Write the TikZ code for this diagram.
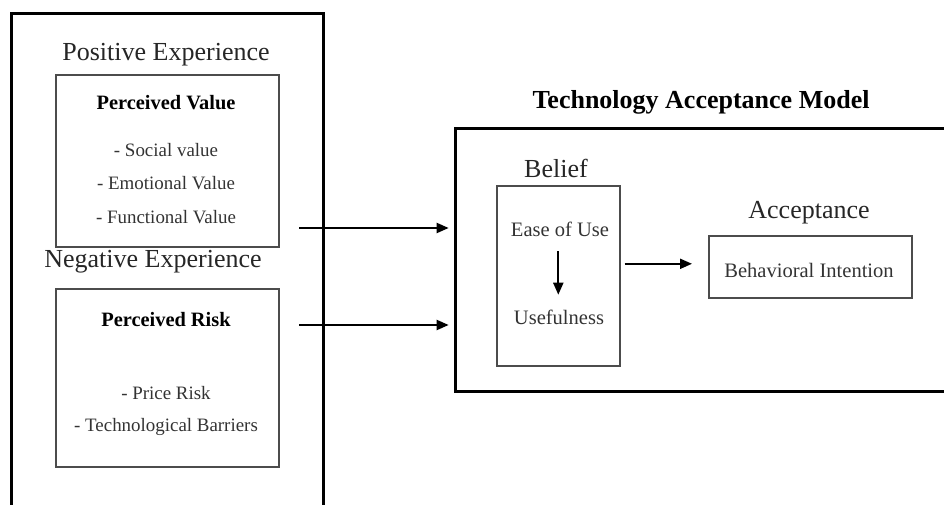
\documentclass[tikz,border=0pt]{standalone}
\usepackage{fontspec}
\setmainfont{Liberation Serif}
\usepackage{tikz}
\usetikzlibrary{positioning}
\usetikzlibrary{arrows.meta}

\tikzset{
	outerframe/.style={draw=black, line width=2.2pt, inner sep=0pt},
	innerbox/.style={draw=black!70, line width=1.2pt, inner sep=0pt},
	heading/.style={font=\fontsize{19.5}{22}\selectfont, text=black!85, inner sep=0pt},
	titlehead/.style={font=\fontsize{19.5}{22}\selectfont\bfseries, inner sep=0pt},
	boldhead/.style={font=\fontsize{15.3}{18}\selectfont\bfseries, inner sep=0pt},
	listitem/.style={font=\fontsize{14.2}{17}\selectfont, text=black!80, inner sep=0pt},
	boxtext/.style={font=\fontsize{15.4}{18}\selectfont, text=black!80, inner sep=0pt},
	flow/.style={-{Triangle[length=9pt,width=7.5pt]}, line width=1.5pt},
}

\begin{document}
\begin{tikzpicture}[x=0.75pt, y=-0.75pt]

	% ------------------------------------------------
	% Size of the picture
	\clip (0,0) rectangle (944,505);

	% ------------------------------------------------
	% Experience side
	\node[outerframe, anchor=north west, minimum width=234pt, minimum height=400pt] (ExpFrame) at (10,12) {};
	
	\node[heading] (PosExp) at (166,55) {Positive Experience};
	\node[innerbox, anchor=north west, minimum width=167.25pt, minimum height=129pt] (ValueBox) at (55,74) {};
	\node[boldhead] (ValueHead) at (166,103) {Perceived Value};
	\node[listitem] (Social) at (166,150) {- Social value};
	\node[listitem] (Emotional) at (166,183) {- Emotional Value};
	\node[listitem] (Functional) at (166,217) {- Functional Value};
	
	\node[heading] (NegExp) at (153,262) {Negative Experience};
	\node[innerbox, anchor=north west, minimum width=167.25pt, minimum height=133.5pt] (RiskBox) at (55,288) {};
	\node[boldhead] (RiskHead) at (166,320) {Perceived Risk};
	\node[listitem] (Price) at (166,393) {- Price Risk};
	\node[listitem] (Barriers) at (166,427) {- Technological Barriers};

	% ------------------------------------------------
	% Technology acceptance model
	\node[titlehead] (TAMTitle) at (701,102) {Technology Acceptance Model};
	\node[outerframe, anchor=north west, minimum width=394.5pt, minimum height=197.25pt] (TAMFrame) at (454,127) {};
	
	\node[heading] (Belief) at (556,168) {Belief};
	\node[innerbox, anchor=north west, minimum width=92.25pt, minimum height=135pt] (BeliefBox) at (496,185) {};
	\node[boxtext] (Ease) at (560,229) {Ease of Use};
	\node[boxtext] (Useful) at (559,317) {Usefulness};
	
	\node[heading] (Accept) at (809,213) {Acceptance};
	\node[innerbox, anchor=north west, minimum width=152.25pt, minimum height=46.5pt] (IntentBox) at (708,235) {};
	\node[boxtext] (Intent) at (809,270) {Behavioral Intention};

	% ----------------
	% Arrows
	\coordinate (PosOut) at (299,228);
	\coordinate (NegOut) at (299,325);
	
	\draw[flow, shorten >=4pt] (PosOut) -- (PosOut -| TAMFrame.west);
	\draw[flow, shorten >=4pt] (NegOut) -- (NegOut -| TAMFrame.west);
	\draw[flow, shorten <=11pt, shorten >=11pt] (BeliefBox.center |- Ease.south) -- (BeliefBox.center |- Useful.north);
	\draw[flow, shorten <=3pt, shorten >=12pt] ([yshift=2.25pt]BeliefBox.east |- IntentBox.west) -- ([yshift=2.25pt]IntentBox.west);

\end{tikzpicture}
\end{document}
